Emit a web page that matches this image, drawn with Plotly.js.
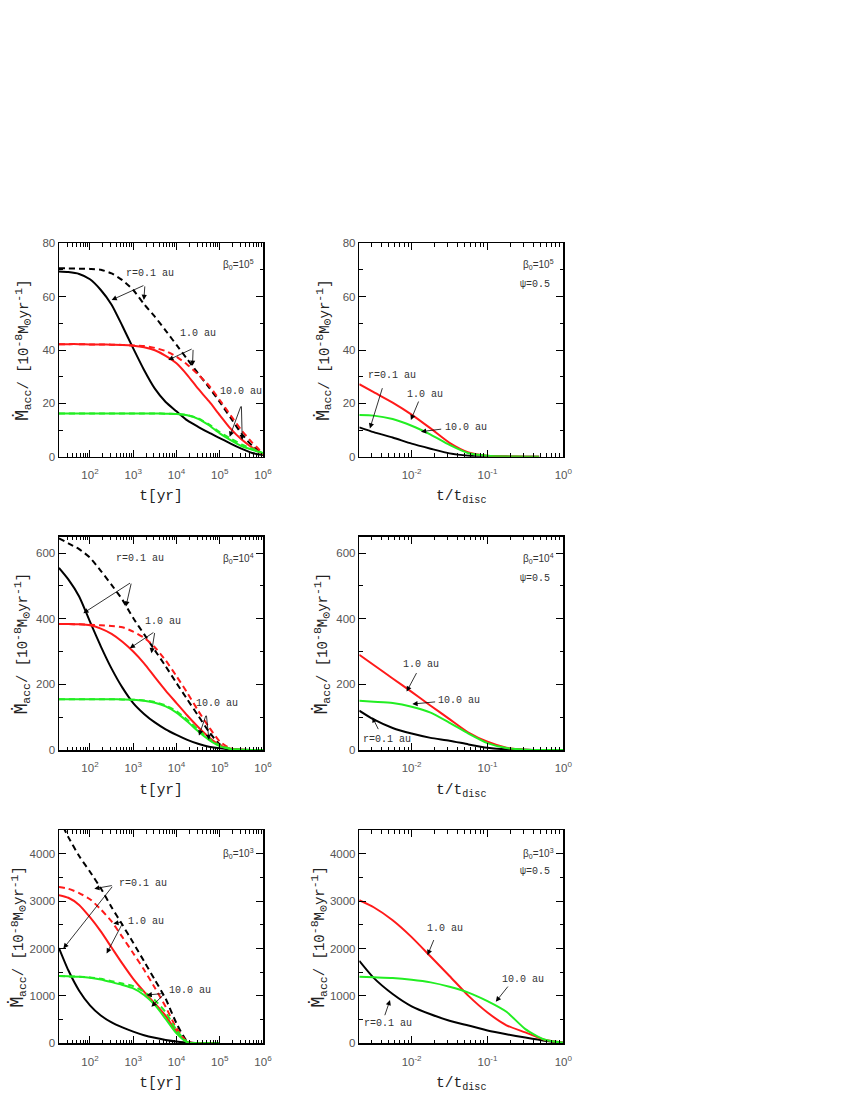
<!DOCTYPE html>
<html>
<head>
<meta charset="utf-8">
<script src="https://cdn.plot.ly/plotly-3.0.1.min.js"></script>
<style>html,body{margin:0;padding:0;background:#fff;}</style>
</head>
<body>
<div id="chart" style="width:850px;height:1100px;"></div>
<script>
// ---------- data ----------
// time grid for t[yr] panels
const tYr = [19.2, 31.6, 56.2, 100, 178, 316, 562, 1000, 1780, 3160, 5620, 1e4, 1.78e4, 3.16e4, 5.62e4, 1e5, 1.78e5, 3.16e5, 5.62e5, 1e6];
// time grid for t/t_disc panels
const tDisc = [0.00204, 0.00316, 0.00562, 0.01, 0.0178, 0.0316, 0.0562, 0.1, 0.178, 0.316, 0.562, 1];
const tDiscB5 = [0.00204, 0.00316, 0.00562, 0.01, 0.0178, 0.0316, 0.0562, 0.1, 0.178, 0.316, 0.48];

// beta0 = 1e5, t [yr]
const b5_r01_solid = [69.4, 69.2, 68.5, 66.5, 62.5, 57, 49, 40.6, 32.5, 25.5, 20.5, 17, 13.6, 11.2, 9, 7, 4.9, 3, 1.4, 0.6];
const b5_r01_dash  = [70.6, 70.6, 70.5, 70.4, 70.1, 68.7, 66.2, 62.5, 57.2, 52.5, 47.3, 41.9, 36.5, 31.2, 26, 20.5, 14.6, 8.7, 4.1, 1.25];
const b5_r1_solid  = [42.2, 42.2, 42.2, 42.1, 42.1, 42.0, 41.9, 41.6, 41.0, 39.9, 37.8, 35, 30.6, 25.5, 20.8, 15.6, 10.5, 6.5, 3.4, 0.9];
const b5_r1_dash   = [42.2, 42.2, 42.2, 42.1, 42.1, 42.0, 41.9, 41.7, 41.5, 40.8, 39.6, 37.5, 34.5, 30.8, 26.7, 21.25, 15.5, 10, 5.3, 1.25];
const b5_r10_solid = [16.2, 16.2, 16.2, 16.2, 16.2, 16.2, 16.2, 16.2, 16.2, 16.2, 16.1, 16.0, 15.5, 14.2, 11.8, 8.75, 6.2, 4.0, 2.6, 1.25];
const b5_r10_dash  = [16.2, 16.2, 16.2, 16.2, 16.2, 16.2, 16.2, 16.2, 16.2, 16.2, 16.1, 16.0, 15.6, 14.4, 12.1, 9.2, 6.8, 4.6, 3.0, 1.4];

// beta0 = 1e5, t/t_disc
const b5d_r01 = [11, 9.2, 7.2, 4.9, 3.0, 1.25, 0.4, 0.1, 0.03, 0, 0];
const b5d_r1  = [27.2, 24.2, 20.3, 15.8, 10.6, 5.2, 1.6, 0.4, 0.1, 0.02, 0];
const b5d_r10 = [15.6, 15.4, 14.1, 11.6, 8.3, 4.4, 1.3, 0.4, 0.1, 0.02, 0];

// beta0 = 1e4, t [yr]
const b4_r01_solid = [555, 520, 468, 391, 316, 248, 190, 143, 110, 84, 63, 46, 31, 19, 10, 5, 2, 0.5, 0, 0];
const b4_r01_dash  = [645, 630, 612, 586, 546, 503, 458, 402, 353, 304, 255, 204, 154, 105, 56, 17, 2, 0, 0, 0];
const b4_r1_solid  = [384, 384, 383, 380, 370, 354, 330, 300, 264, 222, 181, 143, 105, 70, 39, 15, 4, 1, 0, 0];
const b4_r1_dash   = [384, 384, 383, 382, 380, 378, 374, 361, 342, 313, 273, 225, 174, 120, 70, 26, 5, 1, 0, 0];
const b4_r10_solid = [155, 155, 155, 155, 155, 155, 154, 153, 150, 144, 133, 114, 87, 57, 31, 12, 3, 1, 0, 0];
const b4_r10_dash  = [155, 155, 155, 155, 155, 155, 154, 153, 151, 146, 136, 118, 92, 62, 35, 14, 4, 1, 0, 0];

// beta0 = 1e4, t/t_disc
const b4d_r01 = [120, 93, 67, 50, 37, 28.5, 17, 7, 2, 0.5, 0, 0];
const b4d_r1  = [290, 259, 218, 177, 135, 94, 53, 25, 7, 1, 0, 0];
const b4d_r10 = [150, 147, 143, 132, 114, 83, 50, 21, 6, 1, 0, 0];

// beta0 = 1e3, t [yr] (grid up to 1e5)
const tYrB3 = tYr.slice(0, 16);
const b3_r01_solid = [2010, 1540, 1110, 800, 585, 440, 335, 246, 170, 115, 72, 38, 12, 2, 0, 0];
const b3_r01_dash  = [4750, 4350, 3950, 3620, 3270, 2870, 2500, 2120, 1730, 1340, 940, 421, 40, 0, 0, 0];
const b3_r1_solid  = [3125, 3070, 2920, 2660, 2360, 2020, 1680, 1360, 1090, 840, 580, 246, 25, 0, 0, 0];
const b3_r1_dash   = [3300, 3260, 3170, 3040, 2825, 2570, 2240, 1900, 1550, 1170, 770, 316, 30, 0, 0, 0];
const b3_r10_solid = [1418, 1412, 1404, 1385, 1345, 1290, 1230, 1158, 1020, 810, 515, 210, 20, 0, 0, 0];
const b3_r10_dash  = [1418, 1412, 1404, 1390, 1360, 1310, 1260, 1207, 1085, 910, 655, 281, 25, 0, 0, 0];

// beta0 = 1e3, t/t_disc
const b3d_r01 = [1740, 1380, 1040, 780, 612, 477, 375, 270, 190, 120, 55, 10];
const b3d_r1  = [3018, 2870, 2596, 2240, 1830, 1420, 1000, 650, 380, 230, 75, 10];
const b3d_r10 = [1404, 1392, 1376, 1340, 1285, 1193, 1070, 890, 665, 300, 80, 10];

// tick labels
const yrTickVals = [100, 1e3, 1e4, 1e5, 1e6];
const yrTickText = ['10<sup>2</sup>', '10<sup>3</sup>', '10<sup>4</sup>', '10<sup>5</sup>', '10<sup>6</sup>'];
const discTickVals = [0.01, 0.1, 1];
const discTickText = ['10<sup>-2</sup>', '10<sup>-1</sup>', '10<sup>0</sup>'];
const betaLabels = ['β<sub>0</sub>=10<sup>5</sup>', 'β<sub>0</sub>=10<sup>4</sup>', 'β<sub>0</sub>=10<sup>3</sup>'];
const psiLabel = 'ψ=0.5';

// annotation labels: [text, log10 x, y]; arrows: [tail log10 x, tail y, head log10 x, head y]
const labels = {
  1: [['r=0.1 au', 3.385, 68.5], ['1.0 au', 4.5, 46], ['10.0 au', 5.5, 24.6]],
  2: [['r=0.1 au', -2.26, 30.4], ['1.0 au', -1.83, 23.4], ['10.0 au', -1.285, 11]],
  3: [['r=0.1 au', 3.154, 585], ['1.0 au', 3.68, 391.5], ['10.0 au', 4.94, 142]],
  4: [['1.0 au', -1.87, 262], ['10.0 au', -1.37, 152], ['r=0.1 au', -2.33, 30.5]],
  5: [['r=0.1 au', 3.23, 3368], ['1.0 au', 3.285, 2575], ['10.0 au', 4.32, 1123]],
  6: [['1.0 au', -1.56, 2421], ['10.0 au', -0.53, 1347], ['r=0.1 au', -2.307, 421]]
};
const arrows = {
  1: [[3.27, 64.4, 2.5, 58.75], [3.27, 64.4, 3.246, 58.75], [4.385, 40.6, 3.81, 36.25], [4.385, 40.6, 4.37, 34.1], [5.5, 19.4, 5.23, 7.5], [5.5, 19.4, 5.52, 6.25]],
  2: [[-2.38, 26.25, -2.55, 10.6], [-1.9, 21.25, -2.01, 13.75], [-1.59, 10.4, -1.877, 9.4]],
  3: [[2.96, 511.5, 1.846, 417], [2.96, 511.5, 2.83, 437], [3.5, 361, 2.92, 310], [3.5, 361, 3.42, 295], [4.69, 109, 4.52, 44], [4.69, 109, 4.75, 30.5]],
  4: [[-1.925, 239, -2.066, 178], [-1.67, 147, -1.99, 140], [-2.43, 59, -2.517, 99.7]],
  5: [[2.54, 3333, 2.1, 3263], [2.54, 3333, 1.385, 2000], [2.77, 2561, 2.54, 2526], [2.77, 2561, 2.385, 1895], [3.73, 1053, 3.31, 1018], [3.73, 1053, 3.42, 772]],
  6: [[-1.70, 2210, -1.79, 1860], [-0.715, 1228, -0.89, 877], [-2.36, 561, -2.285, 912]]
};

// ---------- styles ----------
const RED = '#ff1a1a', GREEN = '#22ee22', BLACK = '#000000';
const MONO = '"Liberation Mono", "DejaVu Sans Mono", monospace';
const SANS = '"Liberation Sans", Arial, sans-serif';

function line(x, y, color, dash, ax) {
  return {x: x, y: y, type: 'scatter', mode: 'lines', xaxis: 'x' + ax, yaxis: 'y' + ax,
    line: {color: color, width: 2, dash: dash ? '6px,4px' : 'solid', shape: 'spline', smoothing: 0.6},
    showlegend: false, hoverinfo: 'skip'};
}

const traces = [
  line(tYr, b5_r01_dash, BLACK, true, ''), line(tYr, b5_r01_solid, BLACK, false, ''),
  line(tYr, b5_r1_dash, RED, true, ''), line(tYr, b5_r1_solid, RED, false, ''),
  line(tYr, b5_r10_dash, GREEN, true, ''), line(tYr, b5_r10_solid, GREEN, false, ''),

  line(tDiscB5, b5d_r01, BLACK, false, '2'), line(tDiscB5, b5d_r1, RED, false, '2'), line(tDiscB5, b5d_r10, GREEN, false, '2'),

  line(tYr, b4_r01_dash, BLACK, true, '3'), line(tYr, b4_r01_solid, BLACK, false, '3'),
  line(tYr, b4_r1_dash, RED, true, '3'), line(tYr, b4_r1_solid, RED, false, '3'),
  line(tYr, b4_r10_dash, GREEN, true, '3'), line(tYr, b4_r10_solid, GREEN, false, '3'),

  line(tDisc, b4d_r01, BLACK, false, '4'), line(tDisc, b4d_r1, RED, false, '4'), line(tDisc, b4d_r10, GREEN, false, '4'),

  line(tYrB3, b3_r01_dash, BLACK, true, '5'), line(tYrB3, b3_r01_solid, BLACK, false, '5'),
  line(tYrB3, b3_r1_dash, RED, true, '5'), line(tYrB3, b3_r1_solid, RED, false, '5'),
  line(tYrB3, b3_r10_dash, GREEN, true, '5'), line(tYrB3, b3_r10_solid, GREEN, false, '5'),

  line(tDisc, b3d_r01, BLACK, false, '6'), line(tDisc, b3d_r1, RED, false, '6'), line(tDisc, b3d_r10, GREEN, false, '6')
];

// ---------- layout ----------
const colDom = [[59 / 850, 263 / 850], [359.3 / 850, 563.3 / 850]];
const rowDom = [[1 - 456.7 / 1100, 1 - 243.3 / 1100], [1 - 750 / 1100, 1 - 536.7 / 1100], [1 - 1043.3 / 1100, 1 - 830 / 1100]];
const yRanges = [[0, 80], [0, 650], [0, 4500]];
const yDticks = [20, 200, 1000];
const yMinor = [10, 100, 500];
const yStandoff = [10, 5, 2];

function minorLog(lo, hi) {
  const v = [];
  for (let e = lo; e < hi; e++) for (let m = 2; m <= 9; m++) v.push(m * Math.pow(10, e));
  return v;
}

const tickFont = {family: SANS, size: 11.5, color: '#555'};
const SM = '<span style="font-size:11.5px">';
const yTitle = '<span style="font-family:DejaVu Sans Mono;font-size:17px">Ṁ</span><sub>' + SM + 'acc</span></sub>/ [10<sup>' + SM + '-8</span></sup>M<sub>' + SM + '⊙</span></sub>yr<sup>' + SM + '-1</span></sup>]';

const layout = {
  width: 850, height: 1100, margin: {l: 0, r: 0, t: 0, b: 0},
  paper_bgcolor: '#fff', plot_bgcolor: '#fff', showlegend: false,
  annotations: []
};

for (let p = 1; p <= 6; p++) {
  const row = Math.floor((p - 1) / 2), col = (p - 1) % 2;
  const sfx = p === 1 ? '' : String(p);
  const isYr = col === 0;
  layout['xaxis' + sfx] = {
    domain: colDom[col], anchor: 'y' + sfx, type: 'log',
    range: isYr ? [1.284, 6] : [-2.69, 0],
    tickmode: 'array', tickvals: isYr ? yrTickVals : discTickVals, ticktext: isYr ? yrTickText : discTickText,
    ticks: 'inside', ticklen: 7, tickwidth: 1, tickcolor: '#000', ticklabelstandoff: 7,
    minor: {tickmode: 'array', tickvals: isYr ? minorLog(1, 6) : minorLog(-3, 0), ticks: 'inside', ticklen: 3.5, tickwidth: 1, tickcolor: '#000'},
    showline: true, linecolor: '#000', linewidth: 1.5, mirror: 'allticks',
    showgrid: false, zeroline: false, tickfont: tickFont, fixedrange: true,
    title: {text: isYr ? 't[yr]' : 't/t<sub>disc</sub>', font: {family: MONO, size: 14.5, color: '#222'}, standoff: 10}
  };
  layout['yaxis' + sfx] = {
    domain: rowDom[row], anchor: 'x' + sfx, range: yRanges[row],
    tickmode: 'linear', tick0: 0, dtick: yDticks[row],
    ticks: 'inside', ticklen: 7, tickwidth: 1, tickcolor: '#000',
    minor: {dtick: yMinor[row], ticks: 'inside', ticklen: 3.5, tickwidth: 1, tickcolor: '#000'},
    showline: true, linecolor: '#000', linewidth: 1.5, mirror: 'allticks',
    showgrid: false, zeroline: false, tickfont: tickFont, fixedrange: true,
    title: {text: yTitle, font: {family: MONO, size: 14, color: '#222'}, standoff: yStandoff[row]}
  };

  // beta / psi labels
  layout.annotations.push({xref: 'x' + sfx + ' domain', yref: 'y' + sfx + ' domain', x: 0.965, y: row === 2 ? 0.89 : 0.9,
    xanchor: 'right', yanchor: 'middle', text: betaLabels[row], showarrow: false,
    font: {family: SANS, size: 10, color: '#333'}});
  if (!isYr) {
    layout.annotations.push({xref: 'x' + sfx + ' domain', yref: 'y' + sfx + ' domain', x: 0.945, y: 0.805,
      xanchor: 'right', yanchor: 'middle', text: psiLabel, showarrow: false,
      font: {family: MONO, size: 10, color: '#333'}});
  }
  // curve labels
  labels[p].forEach(function (L) {
    layout.annotations.push({xref: 'x' + sfx, yref: 'y' + sfx, x: L[1], y: L[2], text: L[0], showarrow: false,
      xanchor: 'center', yanchor: 'middle', font: {family: MONO, size: 10, color: '#333'}});
  });
  // arrows
  arrows[p].forEach(function (A) {
    layout.annotations.push({xref: 'x' + sfx, yref: 'y' + sfx, axref: 'x' + sfx, ayref: 'y' + sfx,
      ax: A[0], ay: A[1], x: A[2], y: A[3], text: '', showarrow: true,
      arrowhead: 2, arrowsize: 1.3, arrowwidth: 0.8, arrowcolor: '#000', standoff: 0, startstandoff: 0});
  });
}

Plotly.newPlot('chart', traces, layout, {staticPlot: true, displayModeBar: false});
</script>
</body>
</html>
